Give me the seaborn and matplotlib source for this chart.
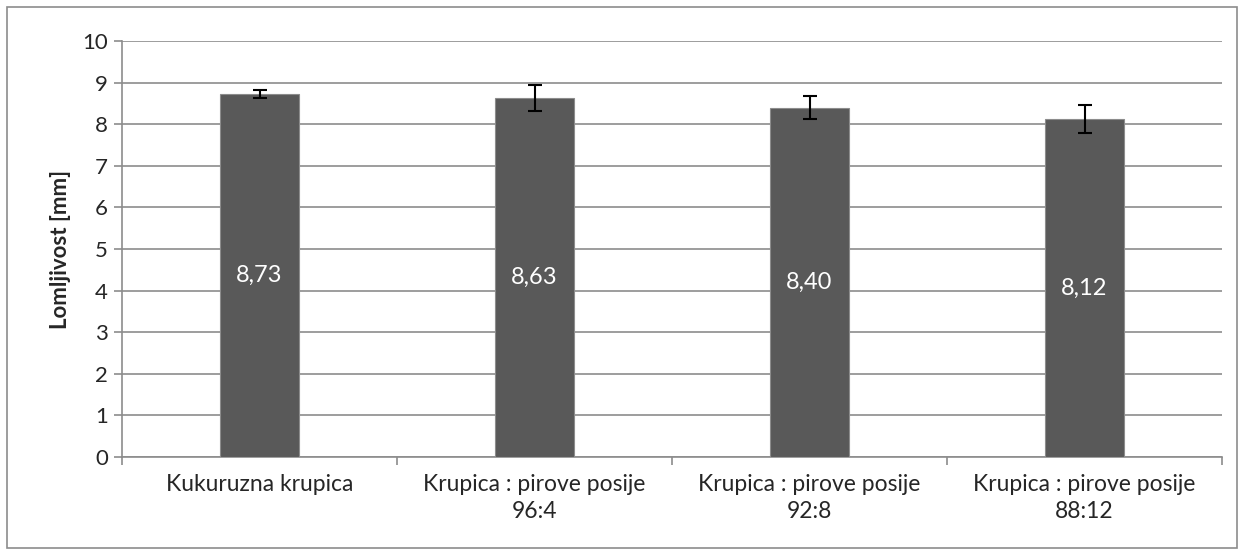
import matplotlib
matplotlib.use("Agg")
import matplotlib.pyplot as plt
import seaborn as sns
import pandas as pd
from matplotlib.patches import Rectangle

categories = ["Kukuruzna krupica", "Krupica : pirove posije\n96:4",
              "Krupica : pirove posije\n92:8", "Krupica : pirove posije\n88:12"]
values = [8.73, 8.63, 8.40, 8.12]
errors = [0.10, 0.32, 0.28, 0.33]
labels = ["8,73", "8,63", "8,40", "8,12"]
yticks = [0, 1, 2, 3, 4, 5, 6, 7, 8, 9, 10]
ylabel = "Lomljivost [mm]"

sns.set_theme(style="white")
plt.rcParams['font.family'] = ['Lato', 'DejaVu Sans']

df = pd.DataFrame({"cat": categories, "val": values})

fig = plt.figure(figsize=(12.44, 5.55), dpi=100)
ax = fig.add_axes([122/1244, 1-457/555, 1100/1244, 416/555])

sns.barplot(data=df, x="cat", y="val", color="#595959", width=0.29,
            saturation=1, ax=ax, errorbar=None, zorder=3)
for p in ax.patches:
    p.set_edgecolor("#8c8c8c")
    p.set_linewidth(0.8)

ax.errorbar(range(len(values)), values, yerr=errors, fmt="none",
            ecolor="black", elinewidth=1.5, capsize=5, capthick=1.5, zorder=4)

for i, (v, t) in enumerate(zip(values, labels)):
    ax.text(i, v / 2, t, ha="center", va="center", color="white", fontsize=17, zorder=5)

ax.set_ylim(0, 10)
ax.set_xlim(-0.5, len(categories) - 0.5)
ax.set_yticks(yticks)
ax.set_yticklabels([str(t) for t in yticks], fontsize=16)
ax.yaxis.grid(True, color="#8c8c8c", linewidth=1.2, zorder=0)
ax.set_axisbelow(True)
ax.set_ylabel(ylabel, fontsize=16, fontweight="bold", labelpad=8)
ax.set_xlabel("")

for s in ["top", "right"]:
    ax.spines[s].set_visible(False)
ax.spines["left"].set_color("#8c8c8c")
ax.spines["bottom"].set_color("#8c8c8c")
ax.spines["left"].set_linewidth(1.2)
ax.spines["bottom"].set_linewidth(1.2)

ax.tick_params(axis="y", which="major", left=True, length=6, color="#8c8c8c", width=1.2, pad=4)
ax.set_xticks(range(len(categories)))
ax.set_xticklabels(categories, fontsize=16.5)
ax.tick_params(axis="x", which="major", bottom=False, pad=6)
ax.set_xticks([i - 0.5 for i in range(len(categories) + 1)], minor=True)
ax.tick_params(axis="x", which="minor", bottom=True, length=6, color="#8c8c8c", width=1.2)
for lbl in ax.get_xticklabels():
    lbl.set_linespacing(1.4)

fig.patches.append(Rectangle((7/1244, 7/555), 1230/1244, 541/555, transform=fig.transFigure,
                             fill=False, edgecolor="#8c8c8c", linewidth=1.2))

fig.savefig("out.png", dpi=100, facecolor="white")
